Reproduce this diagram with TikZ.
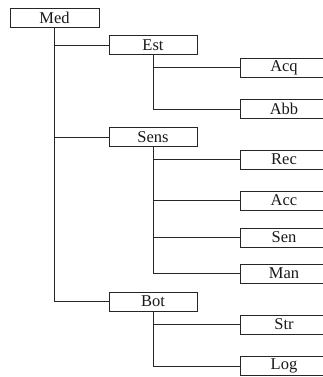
\documentclass[tikz,border=0pt]{standalone}
\usepackage{fontspec}
\setmainfont{Liberation Serif}
\begin{document}
\begin{tikzpicture}[x=1pt,y=1pt,
  box/.style={draw=black!85,line width=0.7pt,minimum width=88pt,minimum height=19pt,inner sep=0pt,
    font=\fontsize{16.5}{18}\selectfont,text=black!90},
  link/.style={draw=black!85,line width=0.8pt}]
\useasboundingbox (0,0) rectangle (323,-377);
\clip (0,0) rectangle (323,-377);
\node[box,minimum width=89pt] (med) at (54.5,-17.5) {Med};
\node[box] (est) at (153,-45) {Est};
\node[box] (sens) at (153,-137) {Sens};
\node[box] (bot) at (153,-301.5) {Bot};
\node[box] (acq) at (284,-67.5) {Acq};
\node[box] (abb) at (284,-109) {Abb};
\node[box] (rec) at (284,-159.5) {Rec};
\node[box] (acc) at (284,-200.5) {Acc};
\node[box] (sen) at (284,-237.5) {Sen};
\node[box] (man) at (284,-273.5) {Man};
\node[box] (str) at (284,-324.5) {Str};
\node[box] (log) at (284,-366) {Log};
\draw[link] (med.south) |- (est.west);
\draw[link] (med.south) |- (sens.west);
\draw[link] (med.south) |- (bot.west);
\draw[link] (est.south) |- (acq.west);
\draw[link] (est.south) |- (abb.west);
\draw[link,line width=1pt] (sens.south) |- (rec.west);
\draw[link,line width=1pt] (sens.south) |- (acc.west);
\draw[link,line width=1pt] (sens.south) |- (sen.west);
\draw[link,line width=1pt] (sens.south) |- (man.west);
\draw[link] (bot.south) |- (str.west);
\draw[link] (bot.south) |- (log.west);
\end{tikzpicture}
\end{document}
